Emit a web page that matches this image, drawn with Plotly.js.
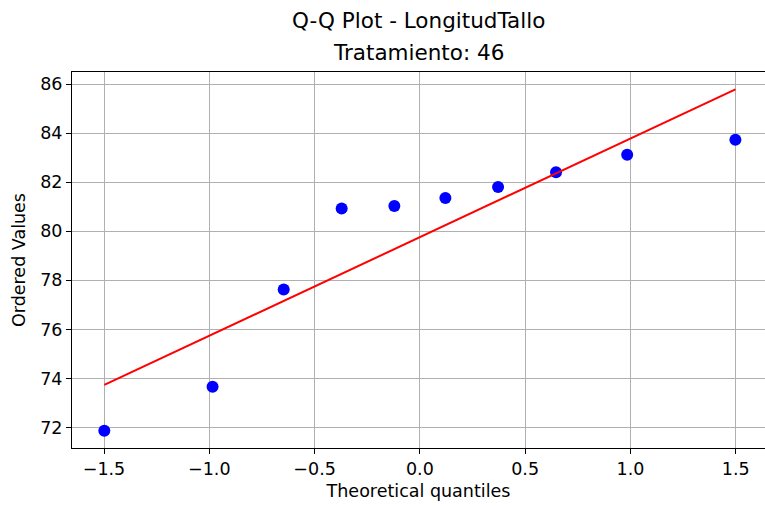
<!DOCTYPE html>
<html>
<head>
<meta charset="utf-8">
<script src="https://cdn.plot.ly/plotly-3.0.1.min.js"></script>
<style>html,body{margin:0;padding:0;background:#fff;}#chart{width:765px;height:506px;}</style>
</head>
<body>
<div id="chart"></div>
<script>
// Theoretical quantiles (x) and ordered sample values (y)
const theoreticalQuantiles = [-1.4985, -0.9845, -0.6466, -0.3714, -0.1212, 0.1212, 0.3714, 0.6466, 0.9845, 1.4985];
const orderedValues = [71.87, 73.67, 77.63, 80.93, 81.03, 81.36, 81.80, 82.41, 83.12, 83.73];
// Fitted reference line endpoints
const fitX = [-1.4985, 1.4985];
const fitY = [73.74, 85.78];
const xTickVals = [-1.5, -1.0, -0.5, 0.0, 0.5, 1.0, 1.5];
const yTickVals = [72, 74, 76, 78, 80, 82, 84, 86];
const titleLines = ['Q-Q Plot - LongitudTallo', 'Tratamiento: 46'];

const font = "DejaVu Sans, sans-serif";
const traces = [
  {x: theoreticalQuantiles, y: orderedValues, type: 'scatter', mode: 'markers',
   marker: {color: '#0000ff', size: 12}, hoverinfo: 'skip'},
  {x: fitX, y: fitY, type: 'scatter', mode: 'lines',
   line: {color: '#ff0000', width: 2}, hoverinfo: 'skip'}
];
const axisCommon = {
  showgrid: true, gridcolor: '#b0b0b0', gridwidth: 1,
  showline: true, linecolor: '#000', linewidth: 1, mirror: true,
  ticks: 'outside', ticklen: 5, tickwidth: 1, tickcolor: '#000',
  zeroline: false, tickfont: {family: font, size: 17.5, color: '#000'}
};
const layout = {
  width: 765, height: 506,
  margin: {l: 72, r: 0, t: 72, b: 58},
  paper_bgcolor: '#fff', plot_bgcolor: '#fff',
  showlegend: false,
  annotations: [
    {text: titleLines[0], xref: 'paper', yref: 'paper', x: 0.5, y: 1.138, xanchor: 'center', yanchor: 'middle',
     showarrow: false, font: {family: font, size: 21.5, color: '#000'}},
    {text: titleLines[1], xref: 'paper', yref: 'paper', x: 0.5, y: 1.053, xanchor: 'center', yanchor: 'middle',
     showarrow: false, font: {family: font, size: 21.5, color: '#000'}}
  ],
  xaxis: Object.assign({}, axisCommon, {
    range: [-1.652, 1.639], tickvals: xTickVals, tickformat: '.1f',
    title: {text: 'Theoretical quantiles', font: {family: font, size: 17.5, color: '#000'}, standoff: 6}
  }),
  yaxis: Object.assign({}, axisCommon, {
    range: [71.17, 86.49], tickvals: yTickVals,
    title: {text: 'Ordered Values', font: {family: font, size: 17.5, color: '#000'}, standoff: 10}
  })
};
Plotly.newPlot('chart', traces, layout, {displayModeBar: false, staticPlot: true});
</script>
</body>
</html>
